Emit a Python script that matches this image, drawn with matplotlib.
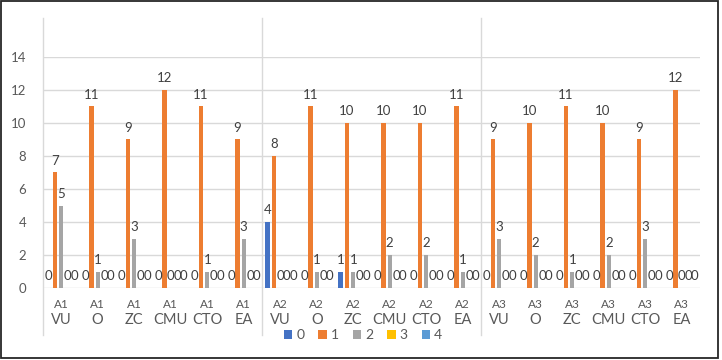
import numpy as np
import matplotlib.pyplot as plt
import matplotlib.transforms as mtransforms
from matplotlib.patches import Patch, Rectangle

groups = ['A1', 'A2', 'A3']
subcats = ['VU', 'O', 'ZC', 'CMU', 'CTO', 'EA']
series_names = ['0', '1', '2', '3', '4']

s0 = [0, 0, 0, 0, 0, 0,  4, 0, 1, 0, 0, 0,  0, 0, 0, 0, 0, 0]
s1 = [7, 11, 9, 12, 11, 9,  8, 11, 10, 10, 10, 11,  9, 10, 11, 10, 9, 12]
s2 = [5, 1, 3, 0, 1, 3,  0, 1, 1, 2, 2, 1,  3, 2, 1, 2, 3, 0]
s3 = [0] * 18
s4 = [0] * 18
series = [s0, s1, s2, s3, s4]
colors = ['#4472C4', '#ED7D31', '#A5A5A5', '#FFC000', '#5B9BD5']

plt.rcParams['font.family'] = ['Lato', 'DejaVu Sans']
txt = '#595959'
grid = '#D9D9D9'

fig = plt.figure(figsize=(7.22, 3.6), dpi=100)
ax = fig.add_axes([43 / 722, 0.2, (700 - 43) / 722, 231 / 360])

n = len(s1)
x = np.arange(n)
step = 0.175
width = 0.12
for i, vals in enumerate(series):
    pos = x + (i - 2) * step
    ax.bar(pos, vals, width=width, color=colors[i], zorder=3)
    for px, v in zip(pos, vals):
        ax.annotate(str(v), (px, v), xytext=(0, 4), textcoords='offset points',
                    ha='center', va='bottom', fontsize=9.5, color='#404040', zorder=4)

ax.set_xlim(-0.5, n - 0.5)
ax.set_ylim(0, 14)
ax.set_yticks(range(0, 15, 2))
ax.yaxis.grid(True, color=grid, lw=1, zorder=0)
ax.tick_params(axis='y', length=0, labelsize=9.5, labelcolor=txt, pad=12)
ax.set_xticks([])
for sp in ax.spines.values():
    sp.set_visible(False)

# group separators
for b in [-0.5, 5.5, 11.5]:
    ax.plot([b, b], [-0.203, 1.169], color=grid, lw=1,
            transform=mtransforms.blended_transform_factory(ax.transData, ax.transAxes),
            clip_on=False, zorder=1)

# two-line category labels
tr = mtransforms.blended_transform_factory(ax.transData, fig.transFigure)
for k in range(n):
    ax.text(k, 1 - 305 / 360, groups[k // 6], transform=tr, ha='center', va='center',
            fontsize=8.5, color=txt)
    ax.text(k, 1 - 320 / 360, subcats[k % 6], transform=tr, ha='center', va='center',
            fontsize=10.5, color=txt)

handles = [Patch(facecolor=c, edgecolor='none') for c in colors]
fig.legend(handles, series_names, loc='center', bbox_to_anchor=(363 / 722, 1 - 335 / 360),
           ncol=5, frameon=False, fontsize=10, handlelength=0.6, handleheight=0.6,
           handletextpad=0.3, columnspacing=1.0, labelcolor=txt)

fig.patches.append(Rectangle((0.002, 0.006), 0.992, 0.99, transform=fig.transFigure,
                             fill=False, edgecolor='#262626', lw=1.3))

fig.savefig('out.png', dpi=100)
